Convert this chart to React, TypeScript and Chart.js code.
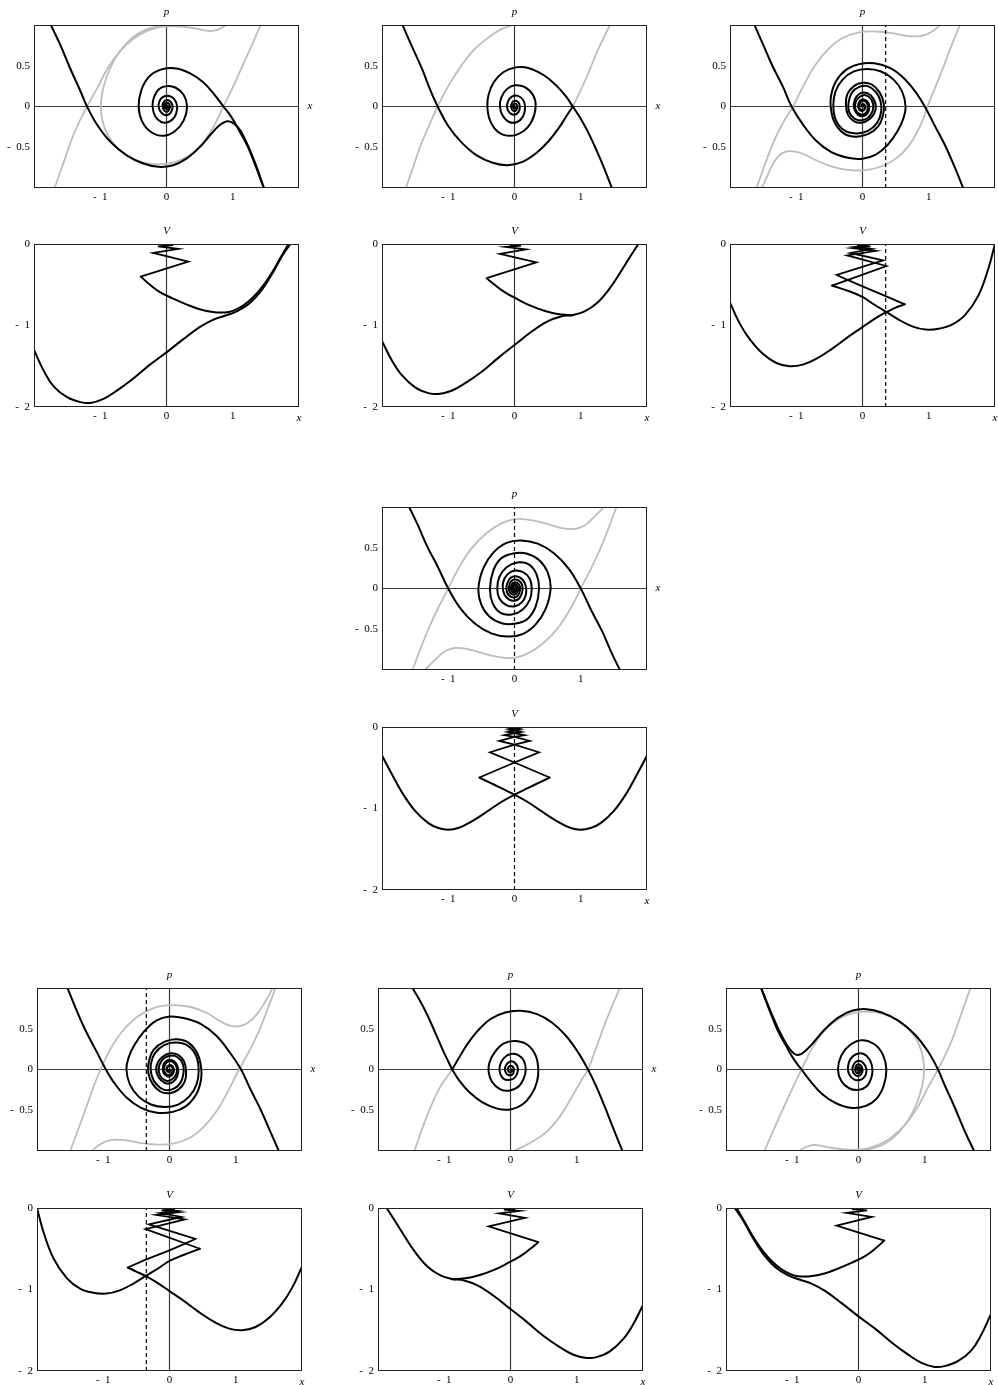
import React, { useEffect, useRef } from "react";
import { Chart, registerables } from "chart.js";

Chart.register(...registerables);

type Pt = [number, number];
type Piece = Pt[];

// ---------- tick values ----------
const X_TICKS = [-1, 0, 1];
const P_TICKS = [-0.5, 0, 0.5];
const V_TICKS = [-2, -1, 0];

// ---------- reference lines ----------
const AXIS_H_PHASE: Piece = [[-2, 0], [2, 0]];
const AXIS_V_PHASE: Piece = [[0, -1], [0, 1]];
const AXIS_V_POT: Piece = [[0, -2], [0, 0]];
const TR_DASH_X = 0.35;
const BL_DASH_X = -0.35;

// ================= TOP LEFT =================
const TL_P_A: Piece = [[-1.745, 1.0], [-1.6, 0.75], [-1.45, 0.46], [-1.3, 0.19], [-1.2, 0.0], [-1.05, -0.22], [-0.85, -0.43], [-0.6, -0.6], [-0.35, -0.7], [-0.12, -0.74], [0.1, -0.72], [0.3, -0.64], [0.5, -0.5], [0.66, -0.35], [0.8, -0.23], [0.92, -0.18], [1.02, -0.21], [1.12, -0.3], [1.24, -0.5], [1.35, -0.72], [1.47, -1.0]];
const TL_P_B: Piece = [[1.47, -1.0], [1.35, -0.74], [1.22, -0.48], [1.1, -0.3], [0.98, -0.13], [0.86, 0.0], [0.72, 0.15], [0.55, 0.3], [0.35, 0.41], [0.12, 0.47], [-0.1, 0.45], [-0.27, 0.36], [-0.38, 0.2], [-0.42, 0.0], [-0.37, -0.18], [-0.24, -0.31], [-0.05, -0.36], [0.13, -0.3], [0.26, -0.17], [0.31, 0.0], [0.26, 0.14], [0.14, 0.23], [0.0, 0.25], [-0.12, 0.21], [-0.19, 0.11], [-0.21, 0.0], [-0.17, -0.12], [-0.08, -0.19], [0.03, -0.19], [0.12, -0.13], [0.16, -0.03], [0.14, 0.06], [0.07, 0.12], [-0.02, 0.13], [-0.09, 0.09], [-0.12, 0.02], [-0.1, -0.05], [-0.04, -0.1], [0.03, -0.1], [0.08, -0.05], [0.09, 0.01], [0.06, 0.06], [0.01, 0.08], [-0.04, 0.06], [-0.06, 0.02], [-0.05, -0.03], [-0.02, -0.06], [0.02, -0.06], [0.045, -0.03], [0.05, 0.01], [0.03, 0.04], [0.0, 0.045], [-0.025, 0.03], [-0.03, 0.0], [-0.015, -0.025], [0.01, -0.03], [0.02, -0.01], [0.015, 0.01], [0.0, 0.015], [-0.01, 0.005], [0, 0]];
const TL_P_G1: Piece = [[-1.69, -1.0], [-1.55, -0.68], [-1.42, -0.38], [-1.3, -0.16], [-1.2, 0.0], [-1.05, 0.22], [-0.9, 0.45], [-0.72, 0.66], [-0.5, 0.83], [-0.28, 0.93], [-0.05, 0.98], [0.2, 0.98], [0.42, 0.96], [0.6, 0.93], [0.72, 0.93], [0.82, 0.96], [0.9, 1.0]];
const TL_P_G2: Piece = [[-0.1, 0.99], [-0.32, 0.94], [-0.52, 0.84], [-0.7, 0.68], [-0.85, 0.47], [-0.95, 0.24], [-0.99, 0.0], [-0.94, -0.25], [-0.8, -0.46], [-0.6, -0.6], [-0.38, -0.68], [-0.14, -0.71], [0.1, -0.69], [0.32, -0.61], [0.52, -0.47], [0.68, -0.29], [0.79, -0.12], [0.86, 0.0], [0.98, 0.2], [1.12, 0.45], [1.27, 0.72], [1.42, 1.0]];
const TL_V_LOW: Piece = [[-2.0, -1.3], [-1.85, -1.56], [-1.7, -1.75], [-1.5, -1.88], [-1.3, -1.94], [-1.15, -1.95], [-0.95, -1.9], [-0.75, -1.8], [-0.5, -1.65], [-0.25, -1.48], [0.0, -1.33], [0.25, -1.17], [0.5, -1.02], [0.7, -0.93], [0.88, -0.88], [1.05, -0.83], [1.25, -0.73], [1.45, -0.55], [1.62, -0.33], [1.75, -0.14], [1.87, 0.0]];
const TL_V_UP: Piece = [[-0.39, -0.4], [-0.25, -0.5], [-0.1, -0.59], [0.1, -0.67], [0.3, -0.74], [0.5, -0.8], [0.7, -0.835], [0.88, -0.84], [1.0, -0.82], [1.15, -0.76], [1.3, -0.66], [1.45, -0.52], [1.6, -0.34], [1.72, -0.17], [1.84, 0.0]];
const TL_V_ZIG: Piece = [[-0.39, -0.4], [0.33, -0.215], [-0.2, -0.11], [0.18, -0.06], [-0.13, -0.03], [0.1, -0.015], [-0.07, -0.008], [0.05, -0.004], [-0.03, -0.002], [0, 0]];

// ================= TOP MIDDLE =================
const TM_P_STABLE: Piece = [[-1.69, 1.0], [-1.55, 0.74], [-1.4, 0.47], [-1.27, 0.2], [-1.16, 0.0], [-1.0, -0.24], [-0.8, -0.44], [-0.57, -0.6], [-0.33, -0.69], [-0.1, -0.72], [0.12, -0.68], [0.33, -0.57], [0.52, -0.42], [0.68, -0.25], [0.79, -0.11], [0.88, 0.0]];
const TM_P_OUT: Piece = [[0.88, 0.0], [1.0, -0.15], [1.12, -0.33], [1.25, -0.56], [1.36, -0.77], [1.47, -1.0]];
const TM_P_SPIRAL: Piece = [[0.88, 0.0], [0.78, 0.12], [0.64, 0.25], [0.45, 0.38], [0.22, 0.47], [0.02, 0.48], [-0.17, 0.42], [-0.31, 0.3], [-0.39, 0.15], [-0.41, 0.0], [-0.37, -0.17], [-0.25, -0.31], [-0.07, -0.36], [0.12, -0.31], [0.26, -0.18], [0.32, 0.0], [0.28, 0.14], [0.15, 0.24], [0.0, 0.26], [-0.12, 0.21], [-0.2, 0.11], [-0.22, 0.0], [-0.18, -0.11], [-0.08, -0.19], [0.04, -0.19], [0.13, -0.12], [0.16, -0.01], [0.13, 0.08], [0.05, 0.13], [-0.04, 0.12], [-0.1, 0.06], [-0.11, -0.02], [-0.07, -0.08], [0.0, -0.1], [0.06, -0.07], [0.08, -0.01], [0.06, 0.05], [0.0, 0.07], [-0.04, 0.04], [-0.05, -0.01], [-0.02, -0.05], [0.02, -0.05], [0.04, -0.02], [0.035, 0.02], [0.0, 0.035], [-0.02, 0.01], [-0.01, -0.02], [0.01, -0.02], [0, 0]];
const TM_P_G1: Piece = [[-1.64, -1.0], [-1.52, -0.72], [-1.4, -0.44], [-1.27, -0.2], [-1.16, 0.0], [-1.0, 0.25], [-0.82, 0.48], [-0.62, 0.69], [-0.42, 0.83], [-0.22, 0.94], [-0.03, 1.0]];
const TM_P_G2: Piece = [[0.88, 0.0], [1.0, 0.2], [1.12, 0.42], [1.24, 0.66], [1.35, 0.85], [1.44, 1.0]];
const TM_V_LOW: Piece = [[-2.0, -1.19], [-1.85, -1.43], [-1.7, -1.61], [-1.5, -1.76], [-1.3, -1.83], [-1.15, -1.84], [-0.95, -1.8], [-0.75, -1.71], [-0.5, -1.57], [-0.25, -1.4], [0.0, -1.24], [0.25, -1.08], [0.5, -0.95], [0.7, -0.89], [0.88, -0.87], [1.05, -0.83], [1.25, -0.72], [1.45, -0.53], [1.62, -0.32], [1.75, -0.15], [1.87, 0.0]];
const TM_V_UP: Piece = [[-0.42, -0.42], [-0.3, -0.5], [-0.15, -0.59], [0.05, -0.68], [0.25, -0.76], [0.45, -0.82], [0.65, -0.86], [0.88, -0.875]];
const TM_V_ZIG: Piece = [[-0.42, -0.42], [0.33, -0.225], [-0.22, -0.12], [0.17, -0.065], [-0.13, -0.035], [0.1, -0.02], [-0.07, -0.01], [0.06, -0.006], [-0.04, -0.003], [0.03, -0.002], [0, 0]];

// ================= TOP RIGHT =================
const TR_P_L: Piece = [[-1.63, 1.0], [-1.5, 0.76], [-1.36, 0.5], [-1.2, 0.24], [-1.07, 0.0], [-0.9, -0.22], [-0.7, -0.42], [-0.47, -0.56], [-0.22, -0.63], [0.0, -0.64], [0.2, -0.59], [0.38, -0.47], [0.53, -0.3], [0.62, -0.14], [0.65, 0.0], [0.6, 0.18], [0.47, 0.33], [0.28, 0.43], [0.07, 0.46], [-0.13, 0.43], [-0.3, 0.33], [-0.41, 0.18], [-0.44, 0.0], [-0.4, -0.17], [-0.28, -0.29], [-0.1, -0.33], [0.08, -0.3], [0.22, -0.2], [0.28, -0.07], [0.27, 0.07], [0.2, 0.18], [0.08, 0.25], [-0.05, 0.24], [-0.16, 0.17], [-0.21, 0.05], [-0.2, -0.07], [-0.12, -0.15], [-0.02, -0.17], [0.08, -0.14], [0.15, -0.06], [0.16, 0.03], [0.12, 0.1], [0.04, 0.14], [-0.04, 0.12], [-0.1, 0.06], [-0.11, -0.02], [-0.07, -0.08], [0.0, -0.1], [0.06, -0.07], [0.08, -0.01], [0.06, 0.05], [0.0, 0.07], [-0.04, 0.04], [-0.05, -0.01], [-0.02, -0.04], [0.02, -0.04], [0.03, 0.0], [0.0, 0.02], [0, 0]];
const TR_P_R: Piece = [[1.52, -1.0], [1.4, -0.76], [1.26, -0.5], [1.1, -0.25], [0.94, 0.0], [0.8, 0.18], [0.62, 0.35], [0.42, 0.47], [0.18, 0.53], [-0.05, 0.52], [-0.25, 0.45], [-0.4, 0.31], [-0.47, 0.15], [-0.48, 0.0], [-0.43, -0.18], [-0.3, -0.32], [-0.12, -0.37], [0.08, -0.34], [0.24, -0.24], [0.31, -0.1], [0.32, 0.04], [0.26, 0.17], [0.14, 0.27], [0.0, 0.29], [-0.13, 0.25], [-0.23, 0.15], [-0.25, 0.02], [-0.22, -0.1], [-0.13, -0.18], [-0.02, -0.2], [0.1, -0.16], [0.18, -0.08], [0.2, 0.01], [0.16, 0.1], [0.08, 0.16], [-0.01, 0.17], [-0.09, 0.12], [-0.13, 0.04], [-0.12, -0.04], [-0.07, -0.1], [0.0, -0.12], [0.07, -0.09], [0.1, -0.03], [0.09, 0.04], [0.04, 0.08], [-0.02, 0.08], [-0.06, 0.04], [-0.06, -0.02], [-0.03, -0.05], [0.01, -0.05], [0.04, -0.02], [0.03, 0.02], [0.0, 0.03], [-0.02, 0.01], [0, 0]];
const TR_P_G1: Piece = [[-1.6, -1.0], [-1.48, -0.73], [-1.35, -0.45], [-1.2, -0.2], [-1.05, 0.0], [-0.9, 0.24], [-0.72, 0.5], [-0.52, 0.7], [-0.3, 0.84], [-0.05, 0.91], [0.2, 0.92], [0.45, 0.9], [0.65, 0.87], [0.82, 0.86], [0.95, 0.88], [1.07, 0.93], [1.17, 1.0]];
const TR_P_G2: Piece = [[-1.52, -1.0], [-1.42, -0.82], [-1.3, -0.64], [-1.18, -0.56], [-1.05, -0.55], [-0.9, -0.58], [-0.7, -0.66], [-0.45, -0.74], [-0.2, -0.78], [0.05, -0.78], [0.3, -0.73], [0.52, -0.63], [0.7, -0.48], [0.84, -0.29], [0.93, -0.12], [0.98, 0.0], [1.08, 0.2], [1.2, 0.44], [1.33, 0.72], [1.47, 1.0]];
const TR_V_L: Piece = [[-2.0, -0.72], [-1.85, -0.98], [-1.7, -1.17], [-1.5, -1.35], [-1.3, -1.46], [-1.1, -1.5], [-0.9, -1.48], [-0.7, -1.41], [-0.45, -1.28], [-0.2, -1.13], [0.0, -1.02], [0.2, -0.91], [0.35, -0.84], [0.5, -0.78], [0.64, -0.74]];
const TR_V_L_ZIG: Piece = [[0.64, -0.74], [0.35, -0.64], [0.0, -0.52], [-0.2, -0.45], [-0.39, -0.38], [0.31, -0.2], [-0.18, -0.11], [0.14, -0.06], [-0.1, -0.035], [0.08, -0.02], [-0.05, -0.01], [0.03, -0.005], [0, 0]];
const TR_V_R: Piece = [[2.0, 0.0], [1.9, -0.3], [1.75, -0.63], [1.55, -0.87], [1.35, -0.99], [1.15, -1.04], [0.95, -1.05], [0.75, -1.01], [0.55, -0.93], [0.35, -0.83], [0.15, -0.73], [0.0, -0.65], [-0.2, -0.58], [-0.46, -0.51]];
const TR_V_R_ZIG: Piece = [[-0.46, -0.51], [0.36, -0.27], [-0.23, -0.14], [0.2, -0.085], [-0.15, -0.05], [0.12, -0.03], [-0.08, -0.015], [0.06, -0.008], [-0.03, -0.003], [0, 0]];

// ================= MIDDLE =================
const MID_P_ARM1: Piece = [[-1.59, 1.0], [-1.46, 0.78], [-1.32, 0.52], [-1.16, 0.27], [-1.0, 0.0], [-0.82, -0.24], [-0.6, -0.43], [-0.35, -0.55], [-0.1, -0.59], [0.12, -0.56], [0.32, -0.44], [0.47, -0.25], [0.545, 0.0], [0.5, 0.2], [0.37, 0.35], [0.18, 0.43], [-0.02, 0.43], [-0.2, 0.37], [-0.32, 0.22], [-0.37, 0.0], [-0.33, -0.18], [-0.21, -0.3], [-0.04, -0.32], [0.12, -0.26], [0.23, -0.14], [0.26, 0.0], [0.23, 0.12], [0.13, 0.2], [0.0, 0.22], [-0.11, 0.17], [-0.17, 0.08], [-0.17, -0.03], [-0.12, -0.11], [-0.03, -0.15], [0.06, -0.13], [0.11, -0.06], [0.12, 0.02], [0.09, 0.08], [0.02, 0.11], [-0.05, 0.09], [-0.08, 0.03], [-0.08, -0.03], [-0.04, -0.07], [0.02, -0.07], [0.05, -0.03], [0.05, 0.02], [0.02, 0.05], [-0.02, 0.04], [-0.035, 0.0], [-0.02, -0.03], [0.01, -0.03], [0.02, 0.0], [0, 0]];
const MID_P_ARM2: Piece = [[1.59, -1.0], [1.46, -0.78], [1.32, -0.52], [1.16, -0.27], [1.0, 0.0], [0.82, 0.24], [0.6, 0.43], [0.35, 0.55], [0.1, 0.59], [-0.12, 0.56], [-0.32, 0.44], [-0.47, 0.25], [-0.545, 0.0], [-0.5, -0.2], [-0.37, -0.35], [-0.18, -0.43], [0.02, -0.43], [0.2, -0.37], [0.32, -0.22], [0.37, 0.0], [0.33, 0.18], [0.21, 0.3], [0.04, 0.32], [-0.12, 0.26], [-0.23, 0.14], [-0.26, 0.0], [-0.23, -0.12], [-0.13, -0.2], [0.0, -0.22], [0.11, -0.17], [0.17, -0.08], [0.17, 0.03], [0.12, 0.11], [0.03, 0.15], [-0.06, 0.13], [-0.11, 0.06], [-0.12, -0.02], [-0.09, -0.08], [-0.02, -0.11], [0.05, -0.09], [0.08, -0.03], [0.08, 0.03], [0.04, 0.07], [-0.02, 0.07], [-0.05, 0.03], [-0.05, -0.02], [-0.02, -0.05], [0.02, -0.04], [0.035, 0.0], [0.02, 0.03], [-0.01, 0.03], [-0.02, 0.0], [0, 0]];
const MID_P_G1: Piece = [[-1.54, -1.0], [-1.42, -0.74], [-1.28, -0.46], [-1.14, -0.22], [-1.0, 0.0], [-0.85, 0.24], [-0.66, 0.48], [-0.45, 0.66], [-0.22, 0.79], [0.0, 0.85], [0.25, 0.84], [0.5, 0.79], [0.72, 0.74], [0.9, 0.73], [1.05, 0.77], [1.18, 0.86], [1.28, 0.94], [1.35, 1.0]];
const MID_P_G2: Piece = [[1.54, 1.0], [1.42, 0.74], [1.28, 0.46], [1.14, 0.22], [1.0, 0.0], [0.85, -0.24], [0.66, -0.48], [0.45, -0.66], [0.22, -0.79], [0.0, -0.85], [-0.25, -0.84], [-0.5, -0.79], [-0.72, -0.74], [-0.9, -0.73], [-1.05, -0.77], [-1.18, -0.86], [-1.28, -0.94], [-1.35, -1.0]];
const MID_V_B1: Piece = [[-2.0, -0.35], [-1.85, -0.58], [-1.7, -0.8], [-1.5, -1.03], [-1.3, -1.18], [-1.15, -1.24], [-1.0, -1.26], [-0.85, -1.24], [-0.65, -1.16], [-0.4, -1.03], [-0.2, -0.92], [0.0, -0.83], [0.2, -0.75], [0.38, -0.68], [0.53, -0.62]];
const MID_V_B2: Piece = [[2.0, -0.35], [1.85, -0.58], [1.7, -0.8], [1.5, -1.03], [1.3, -1.18], [1.15, -1.24], [1.0, -1.26], [0.85, -1.24], [0.65, -1.16], [0.4, -1.03], [0.2, -0.92], [0.0, -0.83], [-0.2, -0.75], [-0.38, -0.68], [-0.53, -0.62]];
const MID_V_Z1: Piece = [[0.53, -0.62], [0.0, -0.435], [-0.37, -0.31], [0.0, -0.215], [0.23, -0.17], [0.0, -0.12], [-0.15, -0.1], [0.0, -0.075], [0.1, -0.06], [0.0, -0.045], [-0.07, -0.035], [0.05, -0.02], [-0.03, -0.01], [0, 0]];
const MID_V_Z2: Piece = [[-0.53, -0.62], [0.0, -0.435], [0.37, -0.31], [0.0, -0.215], [-0.23, -0.17], [0.0, -0.12], [0.15, -0.1], [0.0, -0.075], [-0.1, -0.06], [0.0, -0.045], [0.07, -0.035], [-0.05, -0.02], [0.03, -0.01], [0, 0]];

// ================= BOTTOM LEFT =================
const BL_P_A: Piece = [[-1.54, 1.0], [-1.42, 0.76], [-1.28, 0.5], [-1.12, 0.25], [-0.96, 0.0], [-0.82, -0.18], [-0.64, -0.35], [-0.43, -0.47], [-0.19, -0.53], [0.05, -0.52], [0.25, -0.45], [0.4, -0.31], [0.47, -0.15], [0.48, 0.0], [0.43, 0.18], [0.3, 0.32], [0.12, 0.37], [-0.08, 0.34], [-0.24, 0.24], [-0.31, 0.1], [-0.32, -0.04], [-0.26, -0.17], [-0.14, -0.27], [0.0, -0.29], [0.13, -0.25], [0.23, -0.15], [0.25, -0.02], [0.22, 0.1], [0.13, 0.18], [0.02, 0.2], [-0.1, 0.16], [-0.18, 0.08], [-0.2, -0.01], [-0.16, -0.1], [-0.08, -0.16], [0.01, -0.17], [0.09, -0.12], [0.13, -0.04], [0.12, 0.04], [0.07, 0.1], [0.0, 0.12], [-0.07, 0.09], [-0.1, 0.03], [-0.09, -0.04], [-0.04, -0.08], [0.02, -0.08], [0.06, -0.04], [0.06, 0.02], [0.03, 0.05], [-0.01, 0.05], [-0.04, 0.02], [-0.03, -0.01], [0.0, -0.03], [0.02, -0.01], [0, 0]];
const BL_P_B: Piece = [[1.65, -1.0], [1.52, -0.76], [1.38, -0.5], [1.22, -0.24], [1.08, 0.0], [0.9, 0.22], [0.7, 0.42], [0.47, 0.56], [0.22, 0.63], [0.0, 0.65], [-0.2, 0.6], [-0.38, 0.47], [-0.53, 0.3], [-0.62, 0.14], [-0.65, 0.0], [-0.6, -0.18], [-0.47, -0.33], [-0.28, -0.43], [-0.07, -0.46], [0.13, -0.43], [0.3, -0.33], [0.41, -0.18], [0.44, 0.0], [0.4, 0.17], [0.28, 0.29], [0.1, 0.33], [-0.08, 0.3], [-0.22, 0.2], [-0.28, 0.07], [-0.27, -0.07], [-0.2, -0.18], [-0.08, -0.25], [0.05, -0.24], [0.16, -0.17], [0.21, -0.05], [0.2, 0.07], [0.12, 0.15], [0.02, 0.17], [-0.08, 0.14], [-0.15, 0.06], [-0.16, -0.03], [-0.12, -0.1], [-0.04, -0.14], [0.04, -0.12], [0.1, -0.06], [0.11, 0.02], [0.07, 0.08], [0.0, 0.1], [-0.06, 0.07], [-0.08, 0.01], [-0.06, -0.05], [0.0, -0.07], [0.04, -0.04], [0.05, 0.01], [0.02, 0.04], [-0.02, 0.04], [-0.04, 0.0], [-0.02, -0.03], [0.01, -0.02], [0, 0]];
const BL_P_G1: Piece = [[-1.5, -1.0], [-1.38, -0.74], [-1.26, -0.47], [-1.15, -0.22], [-1.04, 0.0], [-0.9, 0.24], [-0.72, 0.46], [-0.48, 0.65], [-0.22, 0.76], [0.03, 0.79], [0.3, 0.77], [0.55, 0.7], [0.75, 0.6], [0.9, 0.54], [1.05, 0.53], [1.18, 0.57], [1.32, 0.68], [1.45, 0.84], [1.56, 1.0]];
const BL_P_G2: Piece = [[-1.17, -1.0], [-1.07, -0.93], [-0.95, -0.88], [-0.82, -0.86], [-0.65, -0.87], [-0.45, -0.9], [-0.2, -0.92], [0.05, -0.91], [0.3, -0.84], [0.52, -0.7], [0.72, -0.5], [0.9, -0.24], [1.05, 0.0], [1.2, 0.22], [1.35, 0.47], [1.48, 0.74], [1.6, 1.0]];
const BL_V_A: Piece = [[-2.0, 0.0], [-1.9, -0.3], [-1.75, -0.62], [-1.55, -0.86], [-1.35, -0.99], [-1.15, -1.04], [-0.95, -1.05], [-0.75, -1.01], [-0.55, -0.93], [-0.35, -0.83], [-0.15, -0.73], [0.0, -0.65], [0.2, -0.58], [0.46, -0.5]];
const BL_V_A_ZIG: Piece = [[0.46, -0.5], [-0.36, -0.26], [0.23, -0.14], [-0.2, -0.085], [0.15, -0.05], [-0.12, -0.03], [0.08, -0.015], [-0.06, -0.008], [0.03, -0.003], [0, 0]];
const BL_V_B: Piece = [[2.0, -0.72], [1.85, -0.98], [1.7, -1.17], [1.5, -1.35], [1.3, -1.46], [1.1, -1.5], [0.9, -1.48], [0.7, -1.41], [0.45, -1.28], [0.2, -1.13], [0.0, -1.02], [-0.2, -0.91], [-0.35, -0.84], [-0.5, -0.78], [-0.63, -0.73]];
const BL_V_B_ZIG: Piece = [[-0.63, -0.73], [-0.35, -0.63], [0.0, -0.52], [0.2, -0.45], [0.39, -0.38], [-0.31, -0.2], [0.18, -0.11], [-0.14, -0.06], [0.1, -0.035], [-0.08, -0.02], [0.05, -0.01], [-0.03, -0.005], [0, 0]];

// ================= BOTTOM MIDDLE =================
const BM_P_STABLE: Piece = [[1.69, -1.0], [1.55, -0.72], [1.42, -0.45], [1.29, -0.2], [1.17, 0.0], [1.02, 0.21], [0.83, 0.42], [0.62, 0.58], [0.4, 0.68], [0.15, 0.72], [-0.08, 0.7], [-0.3, 0.62], [-0.5, 0.47], [-0.66, 0.3], [-0.78, 0.14], [-0.88, 0.0]];
const BM_P_OUT: Piece = [[-0.88, 0.0], [-1.0, 0.2], [-1.13, 0.44], [-1.25, 0.66], [-1.37, 0.85], [-1.48, 1.0]];
const BM_P_SPIRAL: Piece = [[-0.88, 0.0], [-0.77, -0.14], [-0.62, -0.28], [-0.43, -0.4], [-0.2, -0.48], [0.0, -0.49], [0.18, -0.43], [0.32, -0.3], [0.4, -0.15], [0.42, 0.0], [0.38, 0.17], [0.26, 0.3], [0.08, 0.35], [-0.1, 0.32], [-0.24, 0.21], [-0.32, 0.08], [-0.33, -0.03], [-0.28, -0.15], [-0.16, -0.24], [-0.02, -0.26], [0.12, -0.21], [0.2, -0.11], [0.23, 0.0], [0.2, 0.11], [0.11, 0.18], [0.0, 0.19], [-0.1, 0.14], [-0.16, 0.05], [-0.16, -0.04], [-0.11, -0.11], [-0.03, -0.13], [0.05, -0.11], [0.1, -0.05], [0.11, 0.02], [0.08, 0.07], [0.02, 0.1], [-0.04, 0.08], [-0.08, 0.03], [-0.08, -0.02], [-0.05, -0.06], [0.0, -0.07], [0.04, -0.05], [0.05, -0.01], [0.04, 0.03], [0.0, 0.045], [-0.03, 0.03], [-0.04, 0.0], [-0.02, -0.03], [0.01, -0.03], [0.02, 0.0], [0, 0]];
const BM_P_G1: Piece = [[-1.45, -1.0], [-1.33, -0.72], [-1.2, -0.45], [-1.05, -0.2], [-0.88, 0.0]];
const BM_P_G2: Piece = [[0.05, -1.0], [0.3, -0.9], [0.55, -0.76], [0.76, -0.56], [0.95, -0.3], [1.08, -0.12], [1.17, 0.0], [1.3, 0.28], [1.42, 0.55], [1.54, 0.79], [1.65, 1.0]];
const BM_V_LOW: Piece = [[2.0, -1.19], [1.85, -1.43], [1.7, -1.61], [1.5, -1.76], [1.3, -1.83], [1.15, -1.84], [0.95, -1.8], [0.75, -1.71], [0.5, -1.57], [0.25, -1.4], [0.0, -1.24], [-0.25, -1.08], [-0.5, -0.95], [-0.7, -0.89], [-0.88, -0.87], [-1.05, -0.83], [-1.25, -0.72], [-1.45, -0.53], [-1.62, -0.32], [-1.75, -0.15], [-1.87, 0.0]];
const BM_V_UP: Piece = [[0.42, -0.42], [0.3, -0.5], [0.15, -0.59], [-0.05, -0.68], [-0.25, -0.76], [-0.45, -0.82], [-0.65, -0.86], [-0.88, -0.875]];
const BM_V_ZIG: Piece = [[0.42, -0.42], [-0.33, -0.225], [0.22, -0.12], [-0.17, -0.065], [0.13, -0.035], [-0.1, -0.02], [0.07, -0.01], [-0.06, -0.006], [0.04, -0.003], [-0.03, -0.002], [0, 0]];

// ================= BOTTOM RIGHT =================
const BR_P_A: Piece = [[1.745, -1.0], [1.6, -0.75], [1.45, -0.46], [1.3, -0.19], [1.2, 0.0], [1.05, 0.22], [0.85, 0.43], [0.6, 0.6], [0.35, 0.7], [0.12, 0.74], [-0.1, 0.72], [-0.3, 0.64], [-0.5, 0.5], [-0.66, 0.35], [-0.8, 0.23], [-0.9, 0.18], [-0.98, 0.2], [-1.08, 0.3], [-1.2, 0.48], [-1.33, 0.72], [-1.47, 1.0]];
const BR_P_B: Piece = [[-1.47, 1.0], [-1.35, 0.74], [-1.22, 0.48], [-1.1, 0.3], [-0.98, 0.13], [-0.86, 0.0], [-0.72, -0.15], [-0.55, -0.3], [-0.35, -0.41], [-0.12, -0.47], [0.1, -0.45], [0.27, -0.36], [0.38, -0.2], [0.42, 0.0], [0.37, 0.18], [0.24, 0.31], [0.05, 0.36], [-0.13, 0.3], [-0.26, 0.17], [-0.31, 0.0], [-0.26, -0.14], [-0.14, -0.23], [0.0, -0.25], [0.12, -0.21], [0.19, -0.11], [0.21, 0.0], [0.17, 0.12], [0.08, 0.19], [-0.03, 0.19], [-0.12, 0.13], [-0.16, 0.03], [-0.14, -0.06], [-0.07, -0.12], [0.02, -0.13], [0.09, -0.09], [0.12, -0.02], [0.1, 0.05], [0.04, 0.1], [-0.03, 0.1], [-0.08, 0.05], [-0.09, -0.01], [-0.06, -0.06], [-0.01, -0.08], [0.04, -0.06], [0.06, -0.02], [0.05, 0.03], [0.02, 0.06], [-0.02, 0.06], [-0.045, 0.03], [-0.05, -0.01], [-0.03, -0.04], [0.0, -0.045], [0.025, -0.03], [0.03, 0.0], [0.015, 0.025], [-0.01, 0.03], [-0.02, 0.01], [-0.015, -0.01], [0.0, -0.015], [0.01, -0.005], [0, 0]];
const BR_P_G1: Piece = [[1.69, 1.0], [1.55, 0.68], [1.42, 0.38], [1.3, 0.16], [1.2, 0.0], [1.05, -0.22], [0.9, -0.45], [0.72, -0.66], [0.5, -0.83], [0.28, -0.93], [0.05, -0.98], [-0.2, -0.98], [-0.42, -0.96], [-0.6, -0.93], [-0.72, -0.93], [-0.82, -0.96], [-0.9, -1.0]];
const BR_P_G2: Piece = [[0.1, -0.99], [0.32, -0.94], [0.52, -0.84], [0.7, -0.68], [0.85, -0.47], [0.95, -0.24], [0.99, 0.0], [0.94, 0.25], [0.8, 0.46], [0.6, 0.6], [0.38, 0.68], [0.14, 0.71], [-0.1, 0.69], [-0.32, 0.61], [-0.52, 0.47], [-0.68, 0.29], [-0.79, 0.12], [-0.86, 0.0], [-0.98, -0.2], [-1.12, -0.45], [-1.27, -0.72], [-1.42, -1.0]];
const BR_V_LOW: Piece = [[2.0, -1.3], [1.85, -1.56], [1.7, -1.75], [1.5, -1.88], [1.3, -1.94], [1.15, -1.95], [0.95, -1.9], [0.75, -1.8], [0.5, -1.65], [0.25, -1.48], [0.0, -1.33], [-0.25, -1.17], [-0.5, -1.02], [-0.7, -0.93], [-0.88, -0.88], [-1.05, -0.83], [-1.25, -0.73], [-1.45, -0.55], [-1.62, -0.33], [-1.75, -0.14], [-1.87, 0.0]];
const BR_V_UP: Piece = [[0.39, -0.4], [0.25, -0.5], [0.1, -0.59], [-0.1, -0.67], [-0.3, -0.74], [-0.5, -0.8], [-0.7, -0.835], [-0.88, -0.84], [-1.0, -0.82], [-1.15, -0.76], [-1.3, -0.66], [-1.45, -0.52], [-1.6, -0.34], [-1.72, -0.17], [-1.84, 0.0]];
const BR_V_ZIG: Piece = [[0.39, -0.4], [-0.33, -0.215], [0.2, -0.11], [-0.18, -0.06], [0.13, -0.03], [-0.1, -0.015], [0.07, -0.008], [-0.05, -0.004], [0.03, -0.002], [0, 0]];

// ---------- layout ----------
const BOX_W = 265;
const BOX_H = 163;
const PAD_L = 40;
const PAD_T = 24;
const PAD_R = 24;
const PAD_B = 22;
const CW = BOX_W + PAD_L + PAD_R;
const CH = BOX_H + PAD_T + PAD_B;

interface PanelSpec {
  id: string;
  kind: "phase" | "pot";
  left: number;
  top: number;
  smooth: Piece[];
  grey: Piece[];
  zig: Piece[];
  dash?: number;
  dashAxis?: boolean;
}

const PANELS: PanelSpec[] = [
  { id: "tlp", kind: "phase", left: 34, top: 25, smooth: [TL_P_A, TL_P_B], grey: [TL_P_G1, TL_P_G2], zig: [] },
  { id: "tlv", kind: "pot", left: 34, top: 244, smooth: [TL_V_LOW, TL_V_UP], grey: [], zig: [TL_V_ZIG] },
  { id: "tmp", kind: "phase", left: 382, top: 25, smooth: [TM_P_STABLE, TM_P_OUT, TM_P_SPIRAL], grey: [TM_P_G1, TM_P_G2], zig: [] },
  { id: "tmv", kind: "pot", left: 382, top: 244, smooth: [TM_V_LOW, TM_V_UP], grey: [], zig: [TM_V_ZIG] },
  { id: "trp", kind: "phase", left: 730, top: 25, smooth: [TR_P_L, TR_P_R], grey: [TR_P_G1, TR_P_G2], zig: [], dash: TR_DASH_X },
  { id: "trv", kind: "pot", left: 730, top: 244, smooth: [TR_V_L, TR_V_R], grey: [], zig: [TR_V_L_ZIG, TR_V_R_ZIG], dash: TR_DASH_X },
  { id: "mp", kind: "phase", left: 382, top: 507, smooth: [MID_P_ARM1, MID_P_ARM2], grey: [MID_P_G1, MID_P_G2], zig: [], dashAxis: true },
  { id: "mv", kind: "pot", left: 382, top: 727, smooth: [MID_V_B1, MID_V_B2], grey: [], zig: [MID_V_Z1, MID_V_Z2], dashAxis: true },
  { id: "blp", kind: "phase", left: 37, top: 988, smooth: [BL_P_A, BL_P_B], grey: [BL_P_G1, BL_P_G2], zig: [], dash: BL_DASH_X },
  { id: "blv", kind: "pot", left: 37, top: 1208, smooth: [BL_V_A, BL_V_B], grey: [], zig: [BL_V_A_ZIG, BL_V_B_ZIG], dash: BL_DASH_X },
  { id: "bmp", kind: "phase", left: 378, top: 988, smooth: [BM_P_STABLE, BM_P_OUT, BM_P_SPIRAL], grey: [BM_P_G1, BM_P_G2], zig: [] },
  { id: "bmv", kind: "pot", left: 378, top: 1208, smooth: [BM_V_LOW, BM_V_UP], grey: [], zig: [BM_V_ZIG] },
  { id: "brp", kind: "phase", left: 726, top: 988, smooth: [BR_P_A, BR_P_B], grey: [BR_P_G1, BR_P_G2], zig: [] },
  { id: "brv", kind: "pot", left: 726, top: 1208, smooth: [BR_V_LOW, BR_V_UP], grey: [], zig: [BR_V_ZIG] },
];

const SERIF = "'Liberation Serif', 'Times New Roman', 'DejaVu Serif', serif";
const AXIS_COLOR = "#3a3a3a";
const GREY = "#bdbdbd";

function fmt(v: number): string {
  if (v === 0) return "0";
  return v < 0 ? "-\u2002" + String(Math.abs(v)) : String(v);
}

const toPts = (piece: Piece) => piece.map(([x, y]) => ({ x, y }));

const framePlugin = {
  id: "frameAndLabels",
  afterDatasetsDraw(chart: any, _args: any, opts: any) {
    const { ctx, chartArea } = chart;
    const { left, top, right, bottom } = chartArea;
    ctx.save();
    ctx.strokeStyle = "#222";
    ctx.lineWidth = 1;
    ctx.strokeRect(Math.round(left) + 0.5, Math.round(top) + 0.5, Math.round(right - left) - 1, Math.round(bottom - top) - 1);
    ctx.fillStyle = "#000";
    ctx.font = "italic 11px " + SERIF;
    ctx.textAlign = "center";
    ctx.textBaseline = "middle";
    const cx = (left + right) / 2;
    ctx.fillText(opts.kind === "phase" ? "p" : "V", cx, top - 13);
    if (opts.kind === "phase") {
      const y0 = chart.scales.y.getPixelForValue(0);
      ctx.fillText("x", right + 11, y0);
    } else {
      ctx.fillText("x", right, bottom + 11);
    }
    ctx.restore();
  },
};

function buildConfig(s: PanelSpec): any {
  const isPhase = s.kind === "phase";
  const yMin = isPhase ? -1 : -2;
  const yMax = isPhase ? 1 : 0;
  const common = { showLine: true, pointRadius: 0, pointHoverRadius: 0, fill: false };
  const ds: any[] = [];
  s.smooth.forEach((p) =>
    ds.push({ ...common, data: toPts(p), borderColor: "#000", borderWidth: 2, tension: 0.4, borderJoinStyle: "round", borderCapStyle: "round", order: 0 })
  );
  s.zig.forEach((p) =>
    ds.push({ ...common, data: toPts(p), borderColor: "#000", borderWidth: 1.8, tension: 0, borderJoinStyle: "miter", order: 0 })
  );
  if (s.dash !== undefined) {
    ds.push({ ...common, data: [{ x: s.dash, y: yMin }, { x: s.dash, y: yMax }], borderColor: "#000", borderWidth: 1.2, borderDash: [4, 3], tension: 0, order: 1 });
  }
  s.grey.forEach((p) =>
    ds.push({ ...common, data: toPts(p), borderColor: GREY, borderWidth: 1.8, tension: 0.4, borderJoinStyle: "round", order: 2 })
  );
  if (isPhase) {
    ds.push({ ...common, data: toPts(AXIS_H_PHASE), borderColor: AXIS_COLOR, borderWidth: 1.2, tension: 0, order: 3 });
  }
  const vAxis = isPhase ? AXIS_V_PHASE : AXIS_V_POT;
  if (s.dashAxis) {
    ds.push({ ...common, data: toPts(vAxis), borderColor: "#000", borderWidth: 1.2, borderDash: [4, 3], tension: 0, order: 1 });
  } else {
    ds.push({ ...common, data: toPts(vAxis), borderColor: AXIS_COLOR, borderWidth: 1.2, tension: 0, order: 3 });
  }

  const tickFont = { family: SERIF, size: 11 };
  const yTicks = isPhase ? P_TICKS : V_TICKS;

  return {
    type: "scatter",
    data: { datasets: ds },
    options: {
      responsive: false,
      maintainAspectRatio: false,
      animation: false,
      devicePixelRatio: 1,
      events: [],
      layout: { padding: { top: PAD_T, right: PAD_R, left: 0, bottom: 0 } },
      plugins: {
        legend: { display: false },
        tooltip: { enabled: false },
        frameAndLabels: { kind: s.kind },
      },
      scales: {
        x: {
          type: "linear",
          min: -2,
          max: 2,
          grid: { display: false, drawTicks: false },
          border: { display: false },
          afterBuildTicks: (sc: any) => {
            sc.ticks = X_TICKS.map((v) => ({ value: v }));
          },
          afterFit: (sc: any) => {
            sc.height = PAD_B;
          },
          ticks: { font: tickFont, color: "#000", padding: 3, maxRotation: 0, autoSkip: false, callback: (v: any) => fmt(Number(v)) },
        },
        y: {
          type: "linear",
          min: yMin,
          max: yMax,
          grid: { display: false, drawTicks: false },
          border: { display: false },
          afterBuildTicks: (sc: any) => {
            sc.ticks = yTicks.map((v) => ({ value: v }));
          },
          afterFit: (sc: any) => {
            sc.width = PAD_L;
          },
          ticks: { font: tickFont, color: "#000", padding: 4, autoSkip: false, callback: (v: any) => fmt(Number(v)) },
        },
      },
    },
    plugins: [framePlugin],
  };
}

function Panel({ spec }: { spec: PanelSpec }) {
  const ref = useRef<HTMLCanvasElement | null>(null);
  useEffect(() => {
    if (!ref.current) return;
    const chart = new Chart(ref.current, buildConfig(spec));
    return () => chart.destroy();
  }, [spec]);
  return (
    <canvas
      ref={ref}
      width={CW}
      height={CH}
      style={{ position: "absolute", left: spec.left - PAD_L, top: spec.top - PAD_T, width: CW, height: CH }}
    />
  );
}

export default function App() {
  return (
    <div
      style={{
        position: "absolute",
        left: 0,
        top: 0,
        width: 998,
        height: 1385,
        overflow: "hidden",
        background: "#fff",
      }}
    >
      {PANELS.map((p) => (
        <Panel key={p.id} spec={p} />
      ))}
    </div>
  );
}
